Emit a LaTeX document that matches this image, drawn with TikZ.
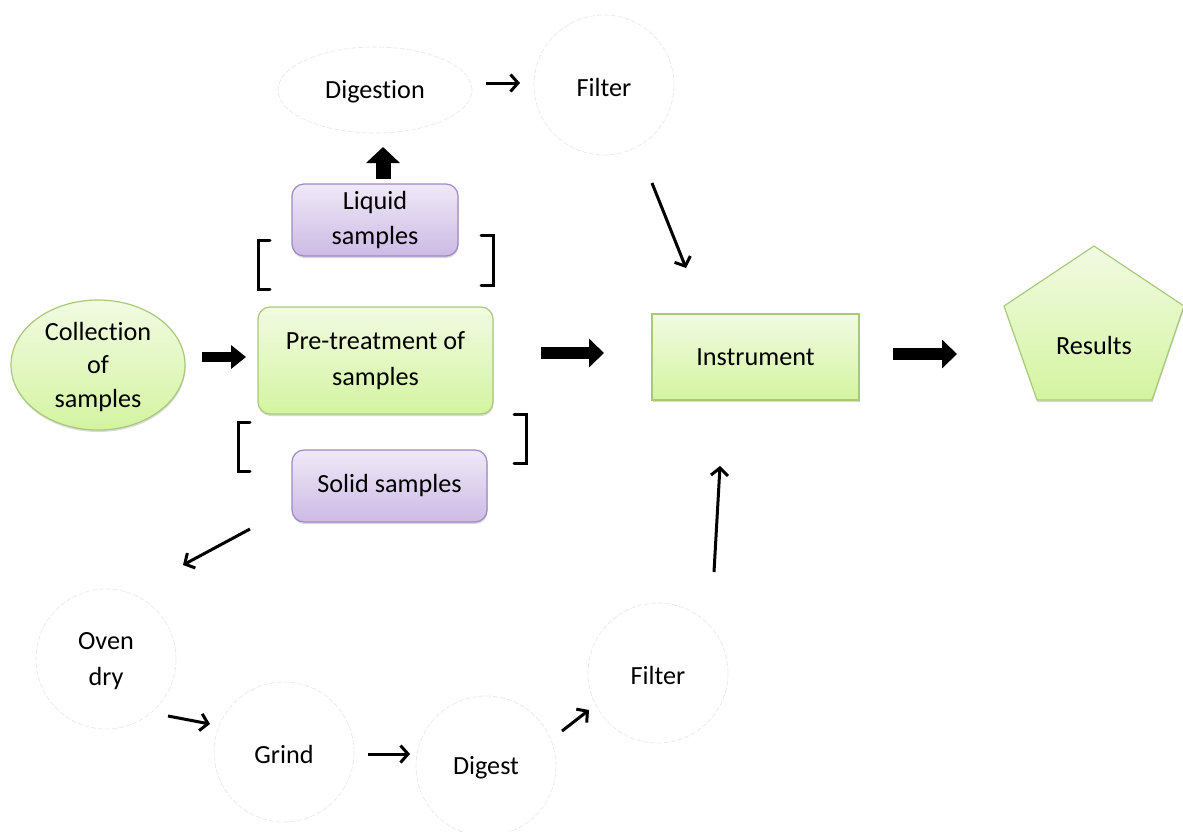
\documentclass[tikz,border=0pt]{standalone}
\usepackage{fontspec}
\setmainfont[Ligatures=NoCommon]{Carlito}
\usetikzlibrary{arrows.meta,shapes.geometric,shadows,calc}
\definecolor{gtop}{HTML}{F1FBE2}
\definecolor{gbot}{HTML}{D4F4A0}
\definecolor{gline}{HTML}{A9C97A}
\definecolor{ptop}{HTML}{EFE9F7}
\definecolor{pbot}{HTML}{CDBAE5}
\definecolor{pline}{HTML}{9F88C6}
\begin{document}
\begin{tikzpicture}[x=1pt,y=-1pt,
  txt/.style={font=\fontsize{26.2}{35.5}\selectfont, align=center, inner sep=0pt},
  lbl/.style={txt, yshift=-2pt},
  shad/.style={drop shadow={shadow xshift=0.5pt,shadow yshift=-2pt,opacity=0.15,fill=black}},
  greenbox/.style={txt, draw=gline, line width=1.2pt, top color=gtop, bottom color=gbot, shad},
  purplebox/.style={txt, draw=pline, line width=1.2pt, top color=ptop, bottom color=pbot, rounded corners=12pt, shad},
  ghost/.style={draw=black!9, line width=0.7pt, dash pattern=on 5pt off 2pt, inner sep=0pt},
  thinarrow/.style={line width=3pt, -{Straight Barb[length=7.5pt,width=17pt]}},
  bigarrow/.style={line width=10pt, -{Triangle[length=15pt,width=23pt]}},
  bracketline/.style={line width=3pt, line cap=round, line join=miter},
]
\useasboundingbox (0,0) rectangle (1183,831);

% main row
\node[greenbox, ellipse, minimum width=174pt, minimum height=130pt, label={[lbl,font=\fontsize{26.2}{33.5}\selectfont]center:Collection\\of\\samples}] (coll) at (98,365) {};
\node[greenbox, rounded corners=12pt, minimum width=235pt, minimum height=107pt] (pre) at (375.5,360.5) {Pre-treatment of\\samples};
\node[greenbox, minimum width=207pt, minimum height=86pt] (instr) at (755.5,357) {Instrument};
\path[greenbox] (1094,246) -- (1184,306) -- (1152,400) -- (1037,400) -- (1004,306) -- cycle;
\node[lbl] (res) at (1094,343) {Results};

% liquid / solid
\node[purplebox, minimum width=166pt, minimum height=72pt] (liq) at (375,220) {Liquid\\samples};
\node[purplebox, minimum width=195pt, minimum height=72pt] (sol) at (389.5,486) {Solid samples};

% brackets
\draw[bracketline] (270,240) -- (258,240) -- (258,289) -- (270,289);
\draw[bracketline] (481,235) -- (493,235) -- (493,285) -- (481,285);
\draw[bracketline] (250,422) -- (238,422) -- (238,471) -- (250,471);
\draw[bracketline] (514,414) -- (526,414) -- (526,463) -- (514,463);

% upper branch
\node[ghost, ellipse, minimum width=194pt, minimum height=86pt, label={[lbl]center:Digestion}] (dig) at (375,90) {};
\node[ghost, circle, minimum size=140pt, label={[lbl]center:Filter}] (filt1) at (604,85) {};

% lower branch
\node[ghost, circle, minimum size=140pt, label={[lbl]center:Oven\\dry}] (oven) at (106,659) {};
\node[ghost, circle, minimum size=140pt, label={[lbl]center:Grind}] (grind) at (284,752) {};
\node[ghost, circle, minimum size=140pt, label={[lbl]center:Digest}] (digest) at (486,766) {};
\node[ghost, circle, minimum size=140pt, label={[lbl]center:Filter}] (filt2) at (658,673) {};

% arrow end points
\coordinate (a1s) at (202,357);  \coordinate (a1e) at (246,357);
\coordinate (a2s) at (541,353);  \coordinate (a2e) at (604,353);
\coordinate (a3s) at (893,354);  \coordinate (a3e) at (957,354);
\coordinate (a4s) at (383,179);  \coordinate (a4e) at (383,147);
\coordinate (b1s) at (486,83);   \coordinate (b1e) at (520,83);
\coordinate (b2s) at (652,183);  \coordinate (b2e) at (686,268);
\coordinate (b3s) at (250,529);  \coordinate (b3e) at (183,565);
\coordinate (b4s) at (168,716);  \coordinate (b4e) at (210,724);
\coordinate (b5s) at (368,754);  \coordinate (b5e) at (410,754);
\coordinate (b6s) at (562,731);  \coordinate (b6e) at (589,710);
\coordinate (b7s) at (714,572);  \coordinate (b7e) at (720,466);

% block arrows
\draw[bigarrow] (a1s) -- (a1e);
\draw[bigarrow, line width=12pt, -{Triangle[length=15pt,width=28pt]}] (a2s) -- (a2e);
\draw[bigarrow, line width=12pt, -{Triangle[length=15pt,width=28pt]}] (a3s) -- (a3e);
\draw[bigarrow, line width=15pt, -{Triangle[length=16pt,width=33pt]}] (a4s) -- (a4e);

% thin arrows
\draw[thinarrow] (b1s) -- (b1e);
\draw[thinarrow] (b2s) -- (b2e);
\draw[thinarrow] (b3s) -- (b3e);
\draw[thinarrow] (b4s) -- (b4e);
\draw[thinarrow] (b5s) -- (b5e);
\draw[thinarrow] (b6s) -- (b6e);
\draw[thinarrow] (b7s) -- (b7e);
\end{tikzpicture}
\end{document}
